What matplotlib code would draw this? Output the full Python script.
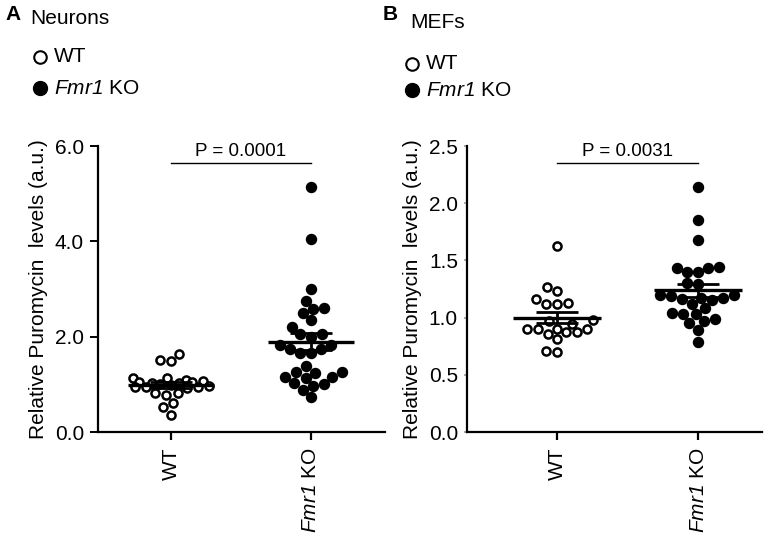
import numpy as np
import matplotlib
matplotlib.use('Agg')
import matplotlib.pyplot as plt
from matplotlib.lines import Line2D

plt.rcParams['font.family'] = ['Liberation Sans', 'DejaVu Sans']
plt.rcParams['mathtext.fontset'] = 'custom'
plt.rcParams['mathtext.rm'] = 'Liberation Sans'
plt.rcParams['mathtext.sf'] = 'Liberation Sans:italic'

# ---- data ----
groups = ['WT', r'$\mathsf{Fmr1}$ KO']

neurons_wt = [1.64, 1.51, 1.49, 1.13, 1.13, 1.09, 1.06, 1.05, 1.04, 1.03, 1.02, 1.00,
              0.98, 0.97, 0.94, 0.94, 0.94, 0.93, 0.82, 0.78, 0.82, 0.61, 0.52, 0.36]
neurons_ko = [5.14, 4.05, 3.00, 2.75, 2.60, 2.58, 2.50, 2.35, 2.20, 2.05, 2.00, 2.05,
              1.82, 1.74, 1.65, 1.65, 1.74, 1.82, 1.38, 1.26, 1.24, 1.26, 1.15, 1.13,
              1.15, 1.03, 0.96, 1.00, 0.88, 0.73]
mefs_wt = [1.63, 1.27, 1.23, 1.16, 1.12, 1.12, 1.13, 0.98, 0.97, 0.94, 0.90, 0.90,
           0.87, 0.86, 0.87, 0.90, 0.90, 0.81, 0.70, 0.71]
mefs_ko = [2.14, 1.85, 1.68, 1.44, 1.43, 1.40, 1.40, 1.43, 1.29, 1.30, 1.17, 1.15,
           1.20, 1.19, 1.20, 1.16, 1.17, 1.12, 1.04, 1.03, 1.08, 1.03, 0.99, 0.97,
           0.95, 0.89, 0.79]

neurons_ticks = [0, 2, 4, 6]
mefs_ticks = [0, 0.5, 1.0, 1.5, 2.0, 2.5]
p_neurons = 'P = 0.0001'
p_mefs = 'P = 0.0031'


def swarm_x(ax, vals, xc, diam=11.0, max_half=38.0):
    # simple beeswarm, done in pixel space
    vals = np.asarray(vals, float)
    pts = ax.transData.transform(np.column_stack([np.full(len(vals), xc), vals]))
    cx = pts[0, 0]
    ys = pts[:, 1]
    placed = []
    offs = np.zeros(len(vals))
    for i in np.argsort(ys):
        y = ys[i]
        cands = [0.0]
        for px, py in placed:
            dy = abs(y - py)
            if dy < diam:
                dx = np.sqrt(diam ** 2 - dy ** 2)
                cands += [px - dx, px + dx]
        best = None
        for c in sorted(cands, key=abs):
            if abs(c) > max_half:
                continue
            if all((c - px) ** 2 + (y - py) ** 2 >= diam ** 2 - 1e-6 for px, py in placed):
                best = c
                break
        if best is None:
            grid = np.linspace(-max_half, max_half, 37)
            best = max(grid, key=lambda c: min(np.hypot(c - px, y - py) for px, py in placed))
        placed.append((best, y))
        offs[i] = best
    inv = ax.transData.inverted()
    return inv.transform(np.column_stack([cx + offs, ys]))[:, 0]


def panel(ax, wt, ko, ylim, yticks, ptext, tick_len, tick_col):
    ax.set_ylim(*ylim)
    ax.set_yticks(yticks)
    ax.set_yticklabels(['{:.1f}'.format(t) for t in yticks])
    ax.set_xticks([0, 1])
    ax.set_xticklabels(groups, rotation=90)
    for s in ['top', 'right']:
        ax.spines[s].set_visible(False)
    for s in ['left', 'bottom']:
        ax.spines[s].set_linewidth(1.6)
    ax.tick_params(axis='y', length=tick_len, width=1.4, color=tick_col, labelsize=15, pad=4)
    ax.tick_params(axis='x', length=6, width=1.6, labelsize=15, pad=5)
    ax.set_ylabel('Relative Puromycin  levels (a.u.)', fontsize=15, labelpad=5)

    for i, (vals, filled) in enumerate([(wt, False), (ko, True)]):
        xs = swarm_x(ax, vals, i)
        if filled:
            ax.scatter(xs, vals, s=52, c='black', zorder=3, clip_on=False)
        else:
            ax.scatter(xs, vals, s=34, facecolor='white', edgecolor='black',
                       linewidth=1.8, zorder=3, clip_on=False)
        m = np.mean(vals)
        sem = np.std(vals, ddof=1) / np.sqrt(len(vals))
        ax.hlines(m, i - 0.31, i + 0.31, color='black', lw=2.4, zorder=4)
        ax.errorbar(i, m, yerr=sem, color='black', lw=2.0, capsize=15,
                    capthick=2.0, zorder=4)

    top = ylim[1]
    ybar = top * 0.94
    ax.plot([0, 1], [ybar, ybar], color='black', lw=1.0, clip_on=False)
    ax.text(0.5, ybar + top * 0.012, ptext, ha='center', va='bottom', fontsize=13.5)


fig = plt.figure(figsize=(7.74, 5.38), dpi=100)
W, H = 774, 538

axA = fig.add_axes([98 / W, (H - 432) / H, (385 - 98) / W, (432 - 146) / H])
axA.set_xlim(-73 / 140, 1 + 74 / 140)
panel(axA, neurons_wt, neurons_ko, (0, 6), neurons_ticks, p_neurons, 6, 'black')

axB = fig.add_axes([467 / W, (H - 432) / H, (762 - 467) / W, (432 - 146) / H])
axB.set_xlim(-90 / 141, 1 + 64 / 141)
panel(axB, mefs_wt, mefs_ko, (0, 2.5), mefs_ticks, p_mefs, 2.5, '#aaaaaa')

# panel letters, titles and legends
for letter, title, lx, tx, ty, mx, y1, y2 in [('A', 'Neurons', 5, 30, 18, 40, 57, 88),
                                              ('B', 'MEFs', 383, 410, 22, 412, 64, 90)]:
    fig.text(lx / W, 1 - 15 / H, letter, fontsize=15, fontweight='bold', va='center')
    fig.text(tx / W, 1 - ty / H, title, fontsize=15, va='center')
    fig.add_artist(Line2D([mx / W], [1 - y1 / H], marker='o', ms=9, mfc='white',
                          mec='black', mew=1.5, transform=fig.transFigure))
    fig.add_artist(Line2D([mx / W], [1 - y2 / H], marker='o', ms=10, mfc='black',
                          mec='black', transform=fig.transFigure))
    fig.text((mx + 14) / W, 1 - y1 / H, 'WT', fontsize=15, va='center')
    fig.text((mx + 14) / W, 1 - y2 / H, r'$\mathsf{Fmr1}$ KO', fontsize=15, va='center')

fig.savefig('out.png', dpi=100)
